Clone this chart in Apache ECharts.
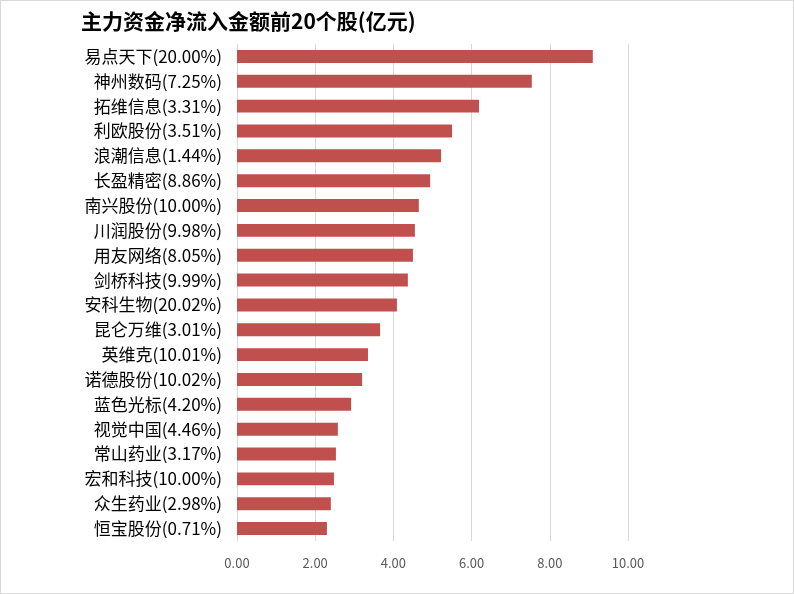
<!DOCTYPE html>
<html><head><meta charset="utf-8">
<script src="https://cdn.jsdelivr.net/npm/echarts@6/dist/echarts.min.js"></script>
<style>html,body{margin:0;padding:0;background:#fff}#c{width:792px;height:592px;border:1px solid #d9d9d9}</style>
</head><body><div id="c"></div>
<script>
const titleText = '主力资金净流入金额前20个股(亿元)';
const categories = ['易点天下(20.00%)','神州数码(7.25%)','拓维信息(3.31%)','利欧股份(3.51%)','浪潮信息(1.44%)','长盈精密(8.86%)','南兴股份(10.00%)','川润股份(9.98%)','用友网络(8.05%)','剑桥科技(9.99%)','安科生物(20.02%)','昆仑万维(3.01%)','英维克(10.01%)','诺德股份(10.02%)','蓝色光标(4.20%)','视觉中国(4.46%)','常山药业(3.17%)','宏和科技(10.00%)','众生药业(2.98%)','恒宝股份(0.71%)'];
const values = [9.10,7.54,6.19,5.50,5.22,4.94,4.65,4.55,4.50,4.37,4.09,3.66,3.35,3.20,2.92,2.58,2.53,2.48,2.40,2.30];
const xTicks = [0,2,4,6,8,10];
const chart = echarts.init(document.getElementById('c'));
const F = '"Noto Sans CJK SC", "Microsoft YaHei", sans-serif';
chart.setOption({
  animation:false,
  title:{text:titleText,left:75,top:5,textStyle:{fontFamily:F,fontSize:21,fontWeight:'bold',color:'#000'}},
  grid:{left:236,top:43,width:391,height:497,containLabel:false},
  xAxis:{type:'value',min:xTicks[0],max:xTicks[xTicks.length-1],interval:2,
    axisLine:{show:false},axisTick:{show:false},
    splitLine:{lineStyle:{color:'#d9d9d9',width:1}},
    axisLabel:{margin:16,color:'#595959',fontFamily:F,fontSize:13,formatter:v=>v.toFixed(2)}},
  yAxis:{type:'category',inverse:true,data:categories,
    axisLine:{show:true,lineStyle:{color:'#d9d9d9'}},axisTick:{show:false},
    axisLabel:{margin:15,color:'#000',fontFamily:F,fontSize:17}},
  series:[{type:'bar',data:values,barWidth:'52%',itemStyle:{color:'#c0504d'}}]
});
</script></body></html>
